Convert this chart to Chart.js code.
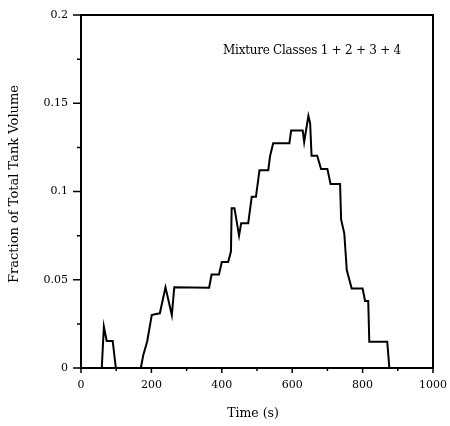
<!DOCTYPE html>
<html>
<head>
<meta charset="utf-8">
<script src="https://cdn.jsdelivr.net/npm/chart.js@4"></script>
<style>
  body { margin: 0; background: #fff; }
  canvas { display: block; }
</style>
</head>
<body>
<canvas id="tankchart" width="450" height="426"></canvas>
<script>
// mixture volume fraction over time
var times = [59, 65, 73, 90, 99, 170, 177, 188, 201, 210, 224, 240, 258, 265,
  364, 371, 392, 400, 418, 426, 428, 436, 449, 455, 475, 485, 497, 507, 532,
  537, 546, 592, 597, 630, 634, 646, 651, 655, 671, 682, 700, 709, 736, 739,
  748, 755, 769, 800, 807, 816, 819, 870, 876];
var fractions = [0, 0.0234, 0.0153, 0.0153, 0, 0, 0.0074, 0.015, 0.030, 0.0304,
  0.031, 0.0457, 0.030, 0.0457, 0.0455, 0.053, 0.053, 0.060, 0.060, 0.066,
  0.0905, 0.0905, 0.075, 0.082, 0.082, 0.097, 0.097, 0.112, 0.112, 0.120,
  0.1273, 0.1273, 0.1345, 0.1345, 0.128, 0.1428, 0.1386, 0.1203, 0.1203,
  0.1127, 0.1127, 0.1042, 0.1042, 0.084, 0.0763, 0.0555, 0.045, 0.045, 0.038,
  0.038, 0.0149, 0.0149, 0];

var xTicks = [0, 200, 400, 600, 800, 1000];
var yTicks = [0, 0.05, 0.1, 0.15, 0.2];

var serif = "'DejaVu Serif', 'Liberation Serif', serif";

var points = times.map(function (t, i) { return { x: t, y: fractions[i] }; });

// frame, tick marks and labels
var framePlugin = {
  id: 'frame',
  afterDraw: function (chart) {
    var c = chart.ctx, a = chart.chartArea;
    var xs = chart.scales.x, ys = chart.scales.y;
    c.save();
    c.strokeStyle = '#000';
    c.lineWidth = 2;
    c.beginPath();
    c.moveTo(a.left, a.top); c.lineTo(a.right, a.top); c.lineTo(a.right, a.bottom);
    c.stroke();

    c.lineWidth = 1.5;
    c.beginPath();
    for (var v = 0; v <= 1000; v += 100) {
      var px = xs.getPixelForValue(v);
      var len = (v % 200 === 0) ? 5 : 3;
      c.moveTo(px, a.bottom); c.lineTo(px, a.bottom + len);
    }
    for (var k = 0; k <= 8; k++) {
      var py = ys.getPixelForValue(k * 0.025);
      var l = (k % 2 === 0) ? 8 : 4;
      c.moveTo(a.left, py); c.lineTo(a.left - l, py);
    }
    c.stroke();

    c.fillStyle = '#000';
    c.textBaseline = 'middle';
    c.textAlign = 'left';
    c.font = '12px ' + serif;
    c.letterSpacing = '-0.25px';
    c.fillText('Mixture Classes 1 + 2 + 3 + 4', 223, 51);
    c.letterSpacing = '0px';

    c.textAlign = 'center';
    c.font = '12.5px ' + serif;
    c.fillText('Time (s)', 253, 414);

    c.font = '13px ' + serif;
    c.translate(15, 184);
    c.rotate(-Math.PI / 2);
    c.fillText('Fraction of Total Tank Volume', 0, 0);
    c.restore();
  }
};

var ctx = document.getElementById('tankchart');
var tankchart = new Chart(ctx, {
  type: 'line',
  data: {
    datasets: [{
      data: points,
      borderColor: '#000',
      borderWidth: 2,
      pointRadius: 0,
      tension: 0,
      fill: false
    }]
  },
  options: {
    responsive: false,
    animation: false,
    layout: { padding: { top: 15, right: 17, left: 0, bottom: 0 } },
    plugins: { legend: { display: false }, tooltip: { enabled: false } },
    scales: {
      x: {
        type: 'linear',
        min: 0,
        max: 1000,
        afterFit: function (s) {
          s.height = 58;
          s.paddingLeft = 0; s.paddingRight = 0;
        },
        afterBuildTicks: function (s) { s.ticks = xTicks.map(function (v) { return { value: v }; }); },
        ticks: {
          color: '#000',
          font: { family: serif, size: 11 },
          padding: 11,
          maxRotation: 0,
          callback: function (v) { return String(v); }
        },
        grid: { drawOnChartArea: false, drawTicks: false },
        border: { color: '#000', width: 2 }
      },
      y: {
        min: 0,
        max: 0.2,
        afterFit: function (s) {
          s.width = 81;
          s.paddingTop = 0; s.paddingBottom = 0;
        },
        afterBuildTicks: function (s) { s.ticks = yTicks.map(function (v) { return { value: v }; }); },
        ticks: {
          color: '#000',
          font: { family: serif, size: 11 },
          padding: 13,
          callback: function (v) { return String(v); }
        },
        grid: { drawOnChartArea: false, drawTicks: false },
        border: { color: '#000', width: 2 }
      }
    }
  },
  plugins: [framePlugin]
});
</script>
</body>
</html>
